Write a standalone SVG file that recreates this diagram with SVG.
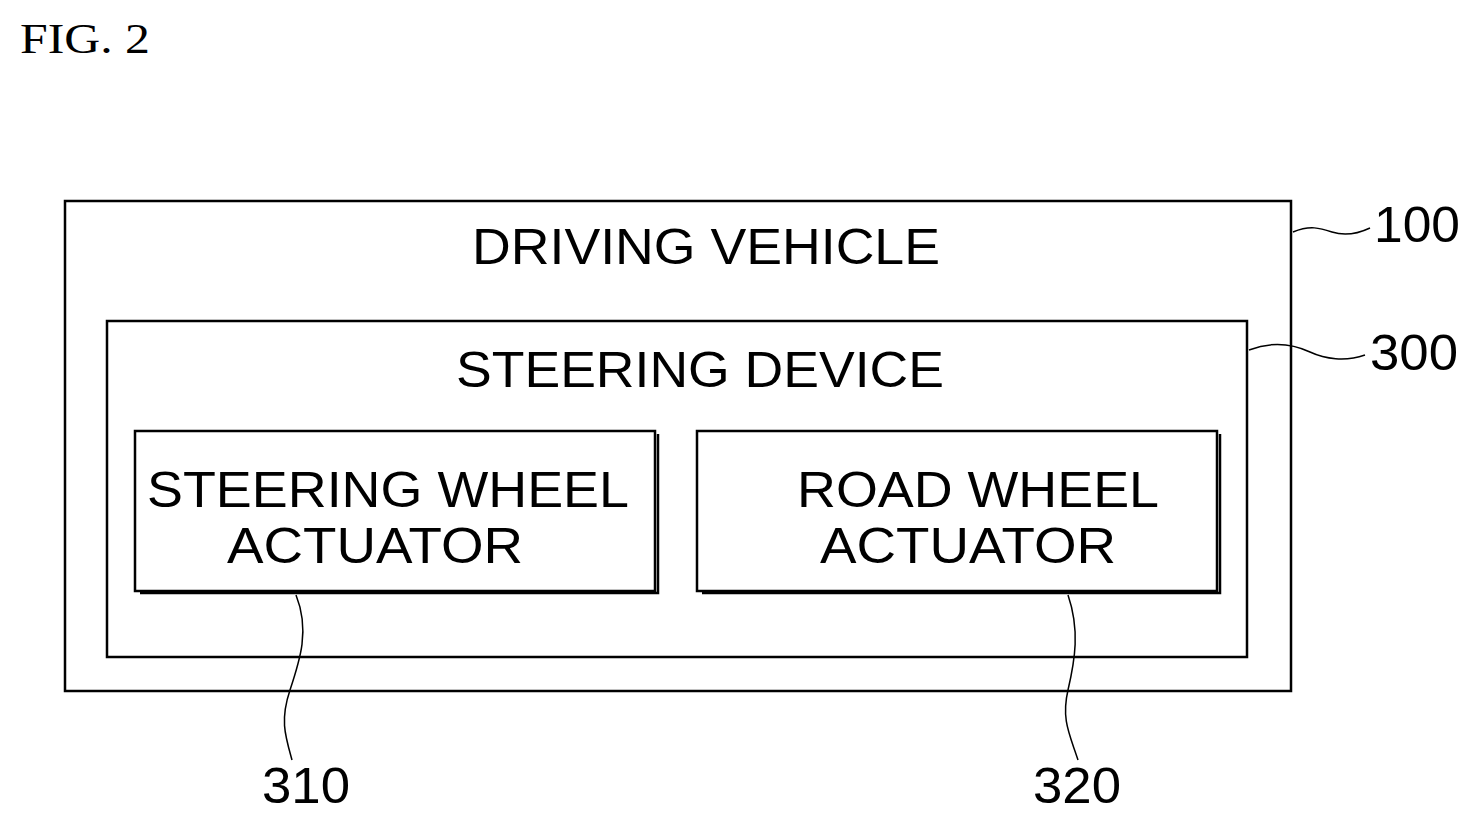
<svg xmlns="http://www.w3.org/2000/svg" width="1480" height="824" viewBox="0 0 1480 824">
<style>
.b{fill:none;stroke:#000;stroke-width:2.5}
.t{font-family:"Liberation Sans",Arial,sans-serif;font-size:50px;fill:#000;text-anchor:middle}
.l{fill:none;stroke:#000;stroke-width:1.5}
</style>
<rect width="1480" height="824" fill="#fff"/>
<text x="20" y="53" font-family="Liberation Serif,serif" font-size="42" textLength="130" lengthAdjust="spacingAndGlyphs">FIG. 2</text>
<g id="n100"><rect class="b" x="65" y="201" width="1226" height="490"/><text class="t" x="706" y="264" textLength="468" lengthAdjust="spacingAndGlyphs">DRIVING VEHICLE</text></g>
<g id="n300"><rect class="b" x="107" y="321" width="1140" height="336"/><text class="t" x="700" y="387" textLength="488" lengthAdjust="spacingAndGlyphs">STEERING DEVICE</text></g>
<g id="n310"><rect class="b" x="135" y="431" width="520" height="160"/><path d="M140 593H658V434" class="b" stroke-width="3"/><text class="t" x="388" y="507" textLength="482" lengthAdjust="spacingAndGlyphs">STEERING WHEEL</text><text class="t" x="375" y="563" textLength="296" lengthAdjust="spacingAndGlyphs">ACTUATOR</text></g>
<g id="n320"><rect class="b" x="697" y="431" width="520" height="160"/><path d="M702 593H1220V434" class="b" stroke-width="3"/><text class="t" x="978" y="507" textLength="362" lengthAdjust="spacingAndGlyphs">ROAD WHEEL</text><text class="t" x="968" y="563" textLength="296" lengthAdjust="spacingAndGlyphs">ACTUATOR</text></g>
<g id="connectors">
<path class="l" d="M1293 232C1310 225 1320 228 1332 232S1355 235 1370 228"/>
<path class="l" d="M1249 350C1275 340 1295 345 1310 352S1345 362 1365 355"/>
<path class="l" d="M296 595C310 630 300 660 290 690S285 735 292 760"/>
<path class="l" d="M1068 595C1080 630 1075 660 1068 690S1070 735 1078 760"/>
</g>
<g>
<text class="t" x="1417" y="242" textLength="86" lengthAdjust="spacingAndGlyphs">100</text>
<text class="t" x="1414" y="370" textLength="88" lengthAdjust="spacingAndGlyphs">300</text>
<text class="t" x="306" y="803" textLength="88" lengthAdjust="spacingAndGlyphs">310</text>
<text class="t" x="1077" y="803" textLength="88" lengthAdjust="spacingAndGlyphs">320</text>
</g>
</svg>
